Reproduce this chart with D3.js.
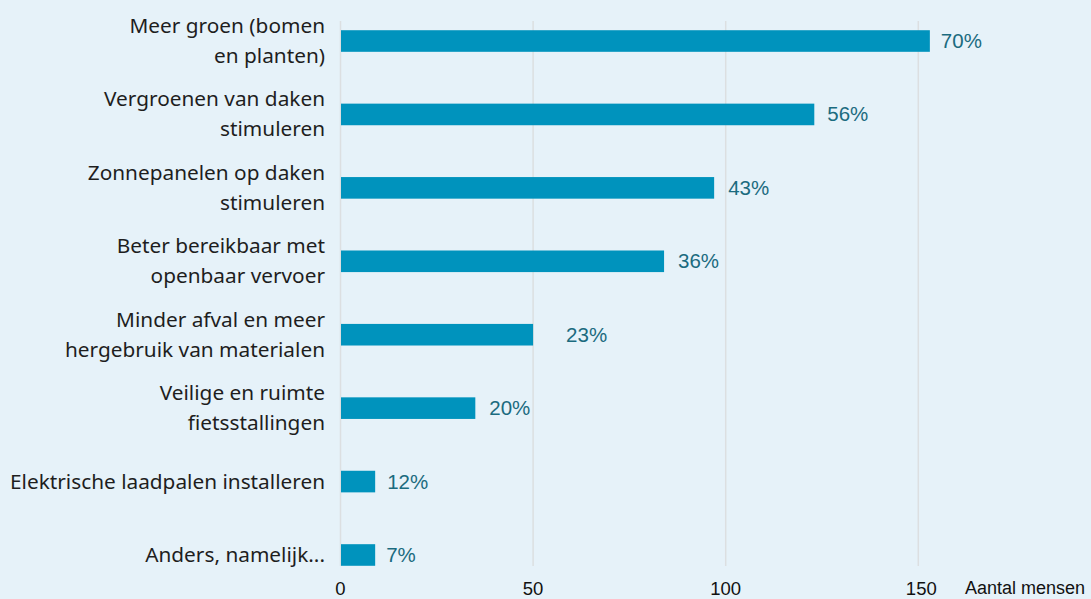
<!DOCTYPE html>
<html><head><meta charset="utf-8">
<script src="https://cdn.jsdelivr.net/npm/d3@7"></script>
<style>
html,body{margin:0;padding:0;background:#e6f2f9;}
svg{display:block;}
</style></head>
<body>
<svg id="chart" width="1091" height="599"></svg>
<script>
const categories = [
  ["Meer groen (bomen", "en planten)"],
  ["Vergroenen van daken", "stimuleren"],
  ["Zonnepanelen op daken", "stimuleren"],
  ["Beter bereikbaar met", "openbaar vervoer"],
  ["Minder afval en meer", "hergebruik van materialen"],
  ["Veilige en ruimte", "fietsstallingen"],
  ["Elektrische laadpalen installeren"],
  ["Anders, namelijk..."]
];
const counts = [153, 123, 97, 84, 50, 35, 9, 9];
const percentLabels = ["70%", "56%", "43%", "36%", "23%", "20%", "12%", "7%"];
const xTicks = [0, 50, 100, 150];
const axisTitle = "Aantal mensen";

const svg = d3.select("#chart");
const W = 1091, H = 599;
svg.append("rect").attr("width", W).attr("height", H).attr("fill", "#e6f2f9");

const x = d3.scaleLinear().domain([0, 150]).range([340.5, 918.3]);
const y = d3.scaleBand().domain(d3.range(categories.length)).range([4.3, 591.7]).padding(0);
const barH = 21.6;
const gridTop = 21, gridBottom = 566;

// gridlines
svg.append("g").selectAll("line").data(xTicks).join("line")
  .attr("x1", d => x(d)).attr("x2", d => x(d))
  .attr("y1", gridTop).attr("y2", gridBottom)
  .attr("stroke", "#dcdfe1").attr("stroke-width", 1.5);

// bars
svg.append("g").selectAll("rect").data(counts).join("rect")
  .attr("x", x(0) + 0.5)
  .attr("y", (d, i) => y(i) + y.bandwidth() / 2 - barH / 2)
  .attr("width", d => x(d) - x(0) - 0.5)
  .attr("height", barH)
  .attr("fill", "#0093bd");

// value labels
const gaps = [11, 13, 14, 14, 33, 14, 12, 11];
svg.append("g").selectAll("text").data(percentLabels).join("text")
  .attr("x", (d, i) => x(counts[i]) + gaps[i])
  .attr("y", (d, i) => y(i) + y.bandwidth() / 2 + 7)
  .attr("font-family", "'Liberation Sans', Arial, sans-serif")
  .attr("font-size", 20.5)
  .attr("fill", "#1b6b7f")
  .text(d => d);

// category labels
const lg = svg.append("g").attr("font-family", "'Noto Sans', sans-serif")
  .attr("font-size", 20.8).attr("fill", "#1e1e1e").attr("text-anchor", "end");
categories.forEach((lines, i) => {
  const cy = y(i) + y.bandwidth() / 2;
  const lh = 30;
  const t = lg.append("text").attr("x", 325);
  lines.forEach((ln, j) => {
    t.append("tspan").attr("x", 325)
      .attr("y", cy + 7 + (j - (lines.length - 1) / 2) * lh)
      .text(ln);
  });
});

// x axis tick labels
svg.append("g").selectAll("text").data(xTicks).join("text")
  .attr("x", d => x(d) + (d === 150 ? 3 : 0)).attr("y", 594.5)
  .attr("text-anchor", "middle")
  .attr("font-family", "'Liberation Sans', Arial, sans-serif")
  .attr("font-size", 18.5).attr("fill", "#111")
  .text(d => d);

svg.append("text").attr("x", 965).attr("y", 594)
  .attr("font-family", "'Liberation Sans', Arial, sans-serif")
  .attr("font-size", 18).attr("fill", "#111")
  .text(axisTitle);
</script>
</body></html>
